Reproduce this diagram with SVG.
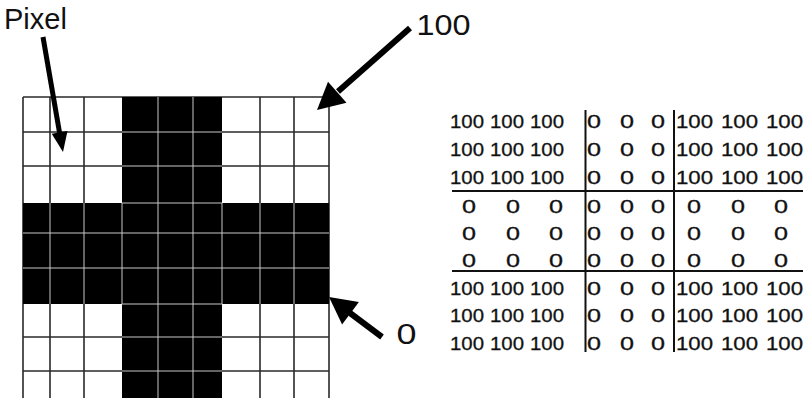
<svg xmlns="http://www.w3.org/2000/svg" width="806" height="398" viewBox="0 0 806 398">
<style>
.lbl{font-family:"Liberation Sans",Arial,Helvetica,sans-serif;font-size:29px;fill:#111}
.t{font-family:"Liberation Sans",Arial,Helvetica,sans-serif;font-size:19px;fill:#111;stroke:#111;stroke-width:0.3}
.dk{stroke:#2a2a2a;stroke-width:1.6;fill:none}
.lt{stroke:#c8c8c8;stroke-width:1;fill:none}
.tl{stroke:#111;stroke-width:2;fill:none}
.shaft{stroke:#000;fill:none}
.head{fill:#000;stroke:none}
</style>
<rect width="806" height="398" fill="#fff"/>
<g id="pixel-grid">
  <path class="dk" d="M23 97V398M50 97V398M84 97V398M260 97V398M294 97V398M329 97V398M23 97H329M23 132H329M23 166H329M23 337H329M23 371H329"/>
  <rect x="122" y="97" width="100" height="301" fill="#000"/>
  <rect x="23" y="203" width="306" height="101" fill="#000"/>
  <path class="lt" d="M158 97V398M193 97V398M122 132H222M122 166H222M122 203H222M122 304H222M122 337H222M122 371H222M50 203V304M84 203V304M122 203V304M222 203V304M260 203V304M294 203V304M23 233H329M23 268H329"/>
</g>
<g id="label-pixel"><text class="lbl" x="4" y="29">Pixel</text></g>
<g id="label-100"><text class="lbl" x="416.5" y="35" textLength="54" lengthAdjust="spacingAndGlyphs">100</text></g>
<g id="label-0"><text class="lbl" x="396.5" y="344" textLength="20" lengthAdjust="spacingAndGlyphs">0</text></g>
<g id="connectors">
  <line class="shaft" stroke-width="5" x1="43" y1="37" x2="59.6" y2="133"/>
  <polygon class="head" points="63,152 67.5,130.9 51.7,133.7"/>
  <line class="shaft" stroke-width="6" x1="410" y1="28" x2="338" y2="91.5"/>
  <polygon class="head" points="317,110 346.5,102.7 328,81.7"/>
  <line class="shaft" stroke-width="6" x1="382" y1="337" x2="350" y2="313"/>
  <polygon class="head" points="329,297 358.9,302.1 342.1,324.5"/>
</g>
<g id="value-table">
  <path class="tl" d="M452 191H803M452 271H803M585.5 110V352M674 110V352"/>
  <g id="row1">
    <text class="t" x="450" y="128" textLength="34" lengthAdjust="spacingAndGlyphs">100</text>
    <text class="t" x="490" y="128" textLength="34" lengthAdjust="spacingAndGlyphs">100</text>
    <text class="t" x="530" y="128" textLength="34" lengthAdjust="spacingAndGlyphs">100</text>
    <text class="t" x="587" y="128" textLength="14" lengthAdjust="spacingAndGlyphs">0</text>
    <text class="t" x="620" y="128" textLength="14" lengthAdjust="spacingAndGlyphs">0</text>
    <text class="t" x="651" y="128" textLength="14" lengthAdjust="spacingAndGlyphs">0</text>
    <text class="t" x="676" y="128" textLength="37" lengthAdjust="spacingAndGlyphs">100</text>
    <text class="t" x="721" y="128" textLength="37" lengthAdjust="spacingAndGlyphs">100</text>
    <text class="t" x="766" y="128" textLength="37" lengthAdjust="spacingAndGlyphs">100</text>
  </g>
  <g id="row2">
    <text class="t" x="450" y="156" textLength="34" lengthAdjust="spacingAndGlyphs">100</text>
    <text class="t" x="490" y="156" textLength="34" lengthAdjust="spacingAndGlyphs">100</text>
    <text class="t" x="530" y="156" textLength="34" lengthAdjust="spacingAndGlyphs">100</text>
    <text class="t" x="587" y="156" textLength="14" lengthAdjust="spacingAndGlyphs">0</text>
    <text class="t" x="620" y="156" textLength="14" lengthAdjust="spacingAndGlyphs">0</text>
    <text class="t" x="651" y="156" textLength="14" lengthAdjust="spacingAndGlyphs">0</text>
    <text class="t" x="676" y="156" textLength="37" lengthAdjust="spacingAndGlyphs">100</text>
    <text class="t" x="721" y="156" textLength="37" lengthAdjust="spacingAndGlyphs">100</text>
    <text class="t" x="766" y="156" textLength="37" lengthAdjust="spacingAndGlyphs">100</text>
  </g>
  <g id="row3">
    <text class="t" x="450" y="184" textLength="34" lengthAdjust="spacingAndGlyphs">100</text>
    <text class="t" x="490" y="184" textLength="34" lengthAdjust="spacingAndGlyphs">100</text>
    <text class="t" x="530" y="184" textLength="34" lengthAdjust="spacingAndGlyphs">100</text>
    <text class="t" x="587" y="184" textLength="14" lengthAdjust="spacingAndGlyphs">0</text>
    <text class="t" x="620" y="184" textLength="14" lengthAdjust="spacingAndGlyphs">0</text>
    <text class="t" x="651" y="184" textLength="14" lengthAdjust="spacingAndGlyphs">0</text>
    <text class="t" x="676" y="184" textLength="37" lengthAdjust="spacingAndGlyphs">100</text>
    <text class="t" x="721" y="184" textLength="37" lengthAdjust="spacingAndGlyphs">100</text>
    <text class="t" x="766" y="184" textLength="37" lengthAdjust="spacingAndGlyphs">100</text>
  </g>
  <g id="row4">
    <text class="t" x="462" y="212.5" textLength="14" lengthAdjust="spacingAndGlyphs">0</text>
    <text class="t" x="506" y="212.5" textLength="14" lengthAdjust="spacingAndGlyphs">0</text>
    <text class="t" x="549" y="212.5" textLength="14" lengthAdjust="spacingAndGlyphs">0</text>
    <text class="t" x="587" y="212.5" textLength="14" lengthAdjust="spacingAndGlyphs">0</text>
    <text class="t" x="620" y="212.5" textLength="14" lengthAdjust="spacingAndGlyphs">0</text>
    <text class="t" x="651" y="212.5" textLength="14" lengthAdjust="spacingAndGlyphs">0</text>
    <text class="t" x="687" y="212.5" textLength="14" lengthAdjust="spacingAndGlyphs">0</text>
    <text class="t" x="731" y="212.5" textLength="14" lengthAdjust="spacingAndGlyphs">0</text>
    <text class="t" x="774" y="212.5" textLength="14" lengthAdjust="spacingAndGlyphs">0</text>
  </g>
  <g id="row5">
    <text class="t" x="462" y="240" textLength="14" lengthAdjust="spacingAndGlyphs">0</text>
    <text class="t" x="506" y="240" textLength="14" lengthAdjust="spacingAndGlyphs">0</text>
    <text class="t" x="549" y="240" textLength="14" lengthAdjust="spacingAndGlyphs">0</text>
    <text class="t" x="587" y="240" textLength="14" lengthAdjust="spacingAndGlyphs">0</text>
    <text class="t" x="620" y="240" textLength="14" lengthAdjust="spacingAndGlyphs">0</text>
    <text class="t" x="651" y="240" textLength="14" lengthAdjust="spacingAndGlyphs">0</text>
    <text class="t" x="687" y="240" textLength="14" lengthAdjust="spacingAndGlyphs">0</text>
    <text class="t" x="731" y="240" textLength="14" lengthAdjust="spacingAndGlyphs">0</text>
    <text class="t" x="774" y="240" textLength="14" lengthAdjust="spacingAndGlyphs">0</text>
  </g>
  <g id="row6">
    <text class="t" x="462" y="267" textLength="14" lengthAdjust="spacingAndGlyphs">0</text>
    <text class="t" x="506" y="267" textLength="14" lengthAdjust="spacingAndGlyphs">0</text>
    <text class="t" x="549" y="267" textLength="14" lengthAdjust="spacingAndGlyphs">0</text>
    <text class="t" x="587" y="267" textLength="14" lengthAdjust="spacingAndGlyphs">0</text>
    <text class="t" x="620" y="267" textLength="14" lengthAdjust="spacingAndGlyphs">0</text>
    <text class="t" x="651" y="267" textLength="14" lengthAdjust="spacingAndGlyphs">0</text>
    <text class="t" x="687" y="267" textLength="14" lengthAdjust="spacingAndGlyphs">0</text>
    <text class="t" x="731" y="267" textLength="14" lengthAdjust="spacingAndGlyphs">0</text>
    <text class="t" x="774" y="267" textLength="14" lengthAdjust="spacingAndGlyphs">0</text>
  </g>
  <g id="row7">
    <text class="t" x="450" y="295" textLength="34" lengthAdjust="spacingAndGlyphs">100</text>
    <text class="t" x="490" y="295" textLength="34" lengthAdjust="spacingAndGlyphs">100</text>
    <text class="t" x="530" y="295" textLength="34" lengthAdjust="spacingAndGlyphs">100</text>
    <text class="t" x="587" y="295" textLength="14" lengthAdjust="spacingAndGlyphs">0</text>
    <text class="t" x="620" y="295" textLength="14" lengthAdjust="spacingAndGlyphs">0</text>
    <text class="t" x="651" y="295" textLength="14" lengthAdjust="spacingAndGlyphs">0</text>
    <text class="t" x="676" y="295" textLength="37" lengthAdjust="spacingAndGlyphs">100</text>
    <text class="t" x="721" y="295" textLength="37" lengthAdjust="spacingAndGlyphs">100</text>
    <text class="t" x="766" y="295" textLength="37" lengthAdjust="spacingAndGlyphs">100</text>
  </g>
  <g id="row8">
    <text class="t" x="450" y="322" textLength="34" lengthAdjust="spacingAndGlyphs">100</text>
    <text class="t" x="490" y="322" textLength="34" lengthAdjust="spacingAndGlyphs">100</text>
    <text class="t" x="530" y="322" textLength="34" lengthAdjust="spacingAndGlyphs">100</text>
    <text class="t" x="587" y="322" textLength="14" lengthAdjust="spacingAndGlyphs">0</text>
    <text class="t" x="620" y="322" textLength="14" lengthAdjust="spacingAndGlyphs">0</text>
    <text class="t" x="651" y="322" textLength="14" lengthAdjust="spacingAndGlyphs">0</text>
    <text class="t" x="676" y="322" textLength="37" lengthAdjust="spacingAndGlyphs">100</text>
    <text class="t" x="721" y="322" textLength="37" lengthAdjust="spacingAndGlyphs">100</text>
    <text class="t" x="766" y="322" textLength="37" lengthAdjust="spacingAndGlyphs">100</text>
  </g>
  <g id="row9">
    <text class="t" x="450" y="350" textLength="34" lengthAdjust="spacingAndGlyphs">100</text>
    <text class="t" x="490" y="350" textLength="34" lengthAdjust="spacingAndGlyphs">100</text>
    <text class="t" x="530" y="350" textLength="34" lengthAdjust="spacingAndGlyphs">100</text>
    <text class="t" x="587" y="350" textLength="14" lengthAdjust="spacingAndGlyphs">0</text>
    <text class="t" x="620" y="350" textLength="14" lengthAdjust="spacingAndGlyphs">0</text>
    <text class="t" x="651" y="350" textLength="14" lengthAdjust="spacingAndGlyphs">0</text>
    <text class="t" x="676" y="350" textLength="37" lengthAdjust="spacingAndGlyphs">100</text>
    <text class="t" x="721" y="350" textLength="37" lengthAdjust="spacingAndGlyphs">100</text>
    <text class="t" x="766" y="350" textLength="37" lengthAdjust="spacingAndGlyphs">100</text>
  </g>
</g>
</svg>
